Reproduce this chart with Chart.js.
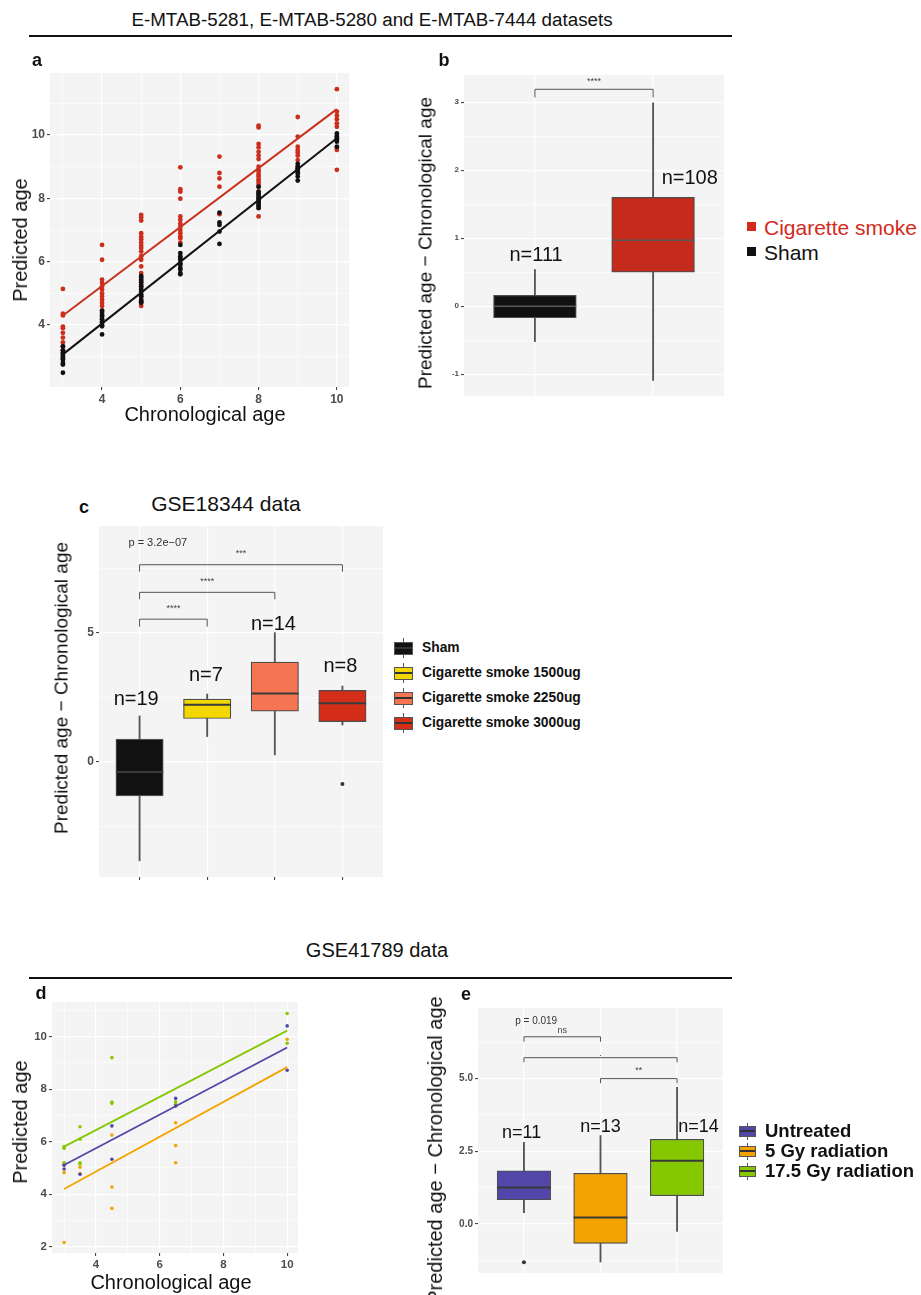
<!DOCTYPE html>
<html>
<head>
<meta charset="utf-8">
<script src="https://cdn.jsdelivr.net/npm/chart.js@4.4.1/dist/chart.umd.min.js"></script>
<style>
body{margin:0;background:#fff;width:921px;height:1295px;position:relative;overflow:hidden;font-family:"Liberation Sans",Arial,sans-serif;color:#111}
.pane{position:absolute}
.t{position:absolute;white-space:nowrap;line-height:1}
.rule{position:absolute;height:2px;background:#111}
.sq{position:absolute;width:9px;height:9px}
.key{position:absolute}
.key i{position:absolute;width:1px;background:#555}
.key b{position:absolute;box-sizing:border-box;border:1.2px solid #555}
.key b:after{content:"";position:absolute;left:0;right:0;top:50%;height:2px;margin-top:-1px;background:#333}
</style>
</head>
<body>
<script>
// ---- panel a: E-MTAB data, predicted vs chronological age
const ageA = [3, 4, 5, 6, 7, 8, 9, 10];
const smokeA = [
  [5.14, 4.36, 4.30, 3.95, 3.90, 3.75, 3.60, 3.45, 3.30, 3.20, 3.10],
  [6.53, 6.06, 5.43, 5.33, 5.22, 5.12, 5.00, 4.90, 4.80, 4.70, 4.60, 4.45],
  [7.48, 7.40, 7.30, 6.90, 6.78, 6.70, 6.60, 6.50, 6.43, 6.32, 6.17, 6.06, 5.85, 5.64, 5.40, 5.22, 4.90, 4.70, 4.60],
  [8.98, 8.29, 8.21, 7.99, 7.43, 7.32, 7.20, 7.10, 7.00, 6.90, 6.80, 6.74, 6.60],
  [9.32, 8.80, 8.63, 8.37, 7.50],
  [10.30, 10.24, 9.72, 9.61, 9.47, 9.35, 9.24, 9.00, 8.90, 8.84, 8.75, 8.69, 8.60, 8.53, 8.45, 8.37, 8.21, 7.43],
  [10.57, 9.95, 9.63, 9.53, 9.45, 9.35, 9.21, 9.00],
  [11.45, 10.74, 10.62, 10.50, 10.37, 10.26, 9.95, 9.60, 9.53, 8.90]
];
const shamA = [
  [3.33, 3.20, 3.12, 3.05, 3.00, 2.95, 2.90, 2.80, 2.75, 2.49],
  [4.45, 4.38, 4.30, 4.28, 4.20, 4.17, 4.10, 4.07, 4.00, 3.96, 3.70],
  [5.55, 5.50, 5.43, 5.35, 5.27, 5.20, 5.12, 5.05, 4.96, 4.90, 4.80, 4.75, 4.70],
  [6.53, 6.27, 6.17, 6.10, 6.06, 5.95, 5.90, 5.80, 5.75, 5.64, 5.60],
  [7.55, 7.24, 7.16, 6.95, 6.56],
  [8.37, 8.21, 8.15, 8.11, 8.05, 8.00, 7.95, 7.90, 7.85, 7.80, 7.75, 7.69],
  [9.09, 9.00, 8.95, 8.90, 8.85, 8.79, 8.69, 8.56],
  [10.05, 9.97, 9.90, 9.85, 9.79, 9.63]
];
const fitXA = [3, 10];
const fitSmokeA = [4.30, 10.82];
const fitShamA = [3.07, 9.90];

// ---- panel b: age difference boxes
const groupsB = ['Sham', 'Cigarette smoke'];
const lowB = [-0.52, -1.09];
const q1B = [-0.17, 0.50];
const medB = [0.00, 0.97];
const q3B = [0.16, 1.60];
const highB = [0.54, 2.99];
const nB = ['n=111', 'n=108'];

// ---- panel c: GSE18344
const groupsC = ['Sham', 'Cigarette smoke 1500ug', 'Cigarette smoke 2250ug', 'Cigarette smoke 3000ug'];
const lowC = [-3.84, 0.97, 0.26, 1.42];
const q1C = [-1.33, 1.67, 1.96, 1.55];
const medC = [-0.40, 2.20, 2.64, 2.26];
const q3C = [0.87, 2.42, 3.86, 2.76];
const highC = [1.77, 2.62, 5.00, 2.93];
const outC = [[], [], [], [-0.87]];
const nC = ['n=19', 'n=7', 'n=14', 'n=8'];

// ---- panel d: GSE41789 predicted vs chronological
const untrX = [3, 3, 3.5, 4.5, 4.5, 6.5, 6.5, 10, 10];
const untrY = [4.96, 5.10, 4.76, 6.60, 5.33, 7.65, 7.36, 10.41, 8.72];
const gy5X = [3, 3, 3.5, 3.5, 4.5, 4.5, 4.5, 6.5, 6.5, 6.5, 10];
const gy5Y = [4.82, 2.16, 5.03, 4.79, 6.25, 4.27, 3.46, 6.72, 5.85, 5.20, 9.90];
const gy17X = [3, 3, 3, 3, 3.5, 3.5, 3.5, 3.5, 4.5, 4.5, 4.5, 6.5, 6.5, 6.5, 10, 10];
const gy17Y = [5.81, 5.75, 5.20, 5.13, 6.57, 6.09, 5.20, 5.15, 9.20, 7.51, 7.46, 7.52, 7.43, 7.36, 10.88, 9.75];
const fitXD = [3, 10];
const fitUntrD = [5.11, 9.59];
const fitGy5D = [4.20, 8.84];
const fitGy17D = [5.81, 10.23];

// ---- panel e: GSE41789 boxes
const groupsE = ['Untreated', '5 Gy radiation', '17.5 Gy radiation'];
const lowE = [0.39, -1.31, -0.26];
const q1E = [0.83, -0.67, 0.97];
const medE = [1.25, 0.22, 2.17];
const q3E = [1.83, 1.74, 2.91];
const highE = [2.81, 3.04, 4.70];
const outE = [[-1.32], [], []];
const nE = ['n=11', 'n=13', 'n=14'];

const fam = '"Liberation Sans", Arial, sans-serif';
const RED = '#cc2e1d', PURPLE = '#5246a8', ORANGE = '#f4a400', GREEN = '#86c806';

function txt(s, x, y, css, anchor) {
  const d = document.createElement('div');
  d.className = 't';
  d.textContent = s;
  d.style.cssText += css;
  d.style.left = x + 'px';
  d.style.top = y + 'px';
  d.style.transform = anchor || 'translate(-50%,-50%)';
  document.body.appendChild(d);
}
function ytitle(s, x, y, size) {
  txt(s, x, y, 'font-size:' + size + 'px', 'translate(-50%,-50%) rotate(-90deg)');
}

function place(box) {
  const w = document.createElement('div');
  w.className = 'pane';
  w.style.left = box.x + 'px'; w.style.top = box.y + 'px';
  const cv = document.createElement('canvas');
  cv.width = box.w; cv.height = box.h;
  w.appendChild(cv);
  document.body.appendChild(w);
  return cv;
}

function axis(o) {
  const isMajor = v => o.major.some(m => Math.abs(m - v) < 1e-9);
  return {
    type: 'linear', min: o.min, max: o.max, offset: false,
    afterBuildTicks: s => { s.ticks = o.all.map(v => ({value: v})); },
    afterFit: s => {
      if (s.isHorizontal()) s.height = o.size; else s.width = o.size;
      s.paddingLeft = s.paddingRight = s.paddingTop = s.paddingBottom = 0;
    },
    border: {display: false},
    grid: {
      offset: false, color: '#ffffff', drawTicks: true, tickLength: 3, tickWidth: 1,
      lineWidth: c => (c.tick && isMajor(c.tick.value)) ? 1.2 : 0.6,
      tickColor: c => (o.marks && c.tick && isMajor(c.tick.value)) ? '#333' : 'rgba(0,0,0,0)'
    },
    ticks: {
      autoSkip: false, maxRotation: 0, minRotation: 0, padding: 2, color: '#4d4d4d',
      font: {family: fam, size: o.fs || 11, weight: 'bold'},
      callback: v => (o.label && isMajor(v)) ? o.label(v) : ''
    }
  };
}

const bg = {id: 'bg', beforeDraw(c) {
  const a = c.chartArea, g = c.ctx;
  g.save(); g.fillStyle = '#f4f4f4'; g.fillRect(a.left, a.top, a.right - a.left, a.bottom - a.top); g.restore();
}};

function opts(box, plot, xs, ys) {
  xs.size = box.y + box.h - plot.y1;
  ys.size = plot.x0 - box.x;
  return {
    responsive: false, animation: false, events: [],
    layout: {autoPadding: false, padding: {top: plot.y0 - box.y, right: box.x + box.w - plot.x1, bottom: 0, left: 0}},
    plugins: {legend: {display: false}, tooltip: {enabled: false}},
    scales: {x: axis(xs), y: axis(ys)}
  };
}

// ---------- panel a ----------
{
  const box = {x: 0, y: 62, w: 360, h: 350}, plot = {x0: 50, x1: 349, y0: 73, y1: 387};
  const pts = g => ageA.flatMap((a, i) => g[i].map(v => ({x: a, y: v})));
  new Chart(place(box), {
    type: 'scatter',
    data: {datasets: [
      {type: 'line', data: fitXA.map((x, i) => ({x, y: fitSmokeA[i]})), borderColor: '#c8321f', borderWidth: 2, pointRadius: 0},
      {type: 'line', data: fitXA.map((x, i) => ({x, y: fitShamA[i]})), borderColor: '#111', borderWidth: 2, pointRadius: 0},
      {data: pts(shamA), backgroundColor: '#111', pointRadius: 2.4, borderWidth: 0},
      {data: pts(smokeA), backgroundColor: RED, pointRadius: 2.4, borderWidth: 0}
    ]},
    options: opts(box, plot,
      {min: 2.67, max: 10.31, all: [3, 4, 5, 6, 7, 8, 9, 10], major: [4, 6, 8, 10], label: v => v, marks: true, fs: 12},
      {min: 2.04, max: 11.96, all: [3, 4, 5, 6, 7, 8, 9, 10, 11], major: [4, 6, 8, 10], label: v => v, marks: true, fs: 12}),
    plugins: [bg]
  });
}

// ---------- box plot helper ----------
function boxChart(box, plot, c) {
  const idx = c.low.map((_, i) => i + 1);
  const unit = (plot.x1 - plot.x0) / (c.xmax - c.xmin);
  const medPts = [];
  idx.forEach((x, i) => { medPts.push({x: x - 0.35, y: c.med[i]}, {x: x + 0.35, y: c.med[i]}, {x: x + 0.4, y: null}); });
  const outPts = c.out.flatMap((a, i) => a.map(v => ({x: i + 1, y: v})));
  const notes = {id: 'notes', afterDatasetsDraw(ch) {
    const g = ch.ctx, X = ch.scales.x, Y = ch.scales.y;
    g.save();
    g.strokeStyle = '#555'; g.lineWidth = 1; g.fillStyle = '#444';
    g.textAlign = 'center'; g.textBaseline = 'middle';
    c.brackets.forEach(b => {
      const xa = X.getPixelForValue(b[0]), xb = X.getPixelForValue(b[1]);
      const yt = Y.getPixelForValue(b[2]), yl = Y.getPixelForValue(b[3]);
      g.beginPath(); g.moveTo(xa, yl); g.lineTo(xa, yt); g.lineTo(xb, yt); g.lineTo(xb, yl); g.stroke();
      g.font = '9px ' + fam;
      g.fillText(b[4], (xa + xb) / 2, Y.getPixelForValue(b[5]));
    });
    if (c.p) {
      g.fillStyle = '#333'; g.font = c.p.fs + 'px ' + fam;
      g.fillText(c.p.s, X.getPixelForValue(c.p.x), Y.getPixelForValue(c.p.y));
    }
    g.fillStyle = '#111'; g.font = c.nfs + 'px ' + fam;
    c.nlab.forEach((s, i) => g.fillText(s, X.getPixelForValue(c.npos[i][0]), Y.getPixelForValue(c.npos[i][1])));
    g.restore();
  }};
  return new Chart(place(box), {
    type: 'bar',
    data: {datasets: [
      {type: 'line', data: medPts, borderColor: c.medCol, borderWidth: c.medW, pointRadius: 0, spanGaps: false, order: 0},
      {type: 'scatter', data: outPts, backgroundColor: '#333', pointRadius: 2, borderWidth: 0, order: 0},
      {data: idx.map((x, i) => ({x, y: [c.q1[i], c.q3[i]]})), backgroundColor: c.colors, borderColor: '#4d4d4d',
        borderWidth: 1.2, borderSkipped: false, barThickness: unit * 0.7, grouped: false, order: 1},
      {data: idx.map((x, i) => ({x, y: [c.low[i], c.high[i]]})), backgroundColor: '#555',
        borderWidth: 0, barThickness: 1.2, grouped: false, order: 2}
    ]},
    options: opts(box, plot,
      {min: c.xmin, max: c.xmax, all: idx, major: idx, label: null, marks: c.xmarks},
      {min: c.ymin, max: c.ymax, all: c.yall, major: c.ymajor, label: c.yfmt, marks: true, fs: c.yfs}),
    plugins: [bg, notes]
  });
}

// ---------- panel b ----------
boxChart({x: 410, y: 70, w: 330, h: 340}, {x0: 464, x1: 724, y0: 75, y1: 396}, {
  low: lowB, q1: q1B, med: medB, q3: q3B, high: highB, out: [[], []],
  colors: ['#111111', '#c42b1c'], medCol: '#5a5a5a', medW: 1.5,
  xmin: 0.4, xmax: 2.6, xmarks: false,
  ymin: -1.32, ymax: 3.40, yall: [-1, -0.5, 0, 0.5, 1, 1.5, 2, 2.5, 3], ymajor: [-1, 0, 1, 2, 3], yfmt: v => v, yfs: 8,
  brackets: [[1, 2, 3.19, 3.07, '****', 3.30]],
  nlab: nB, npos: [[1.01, 0.74], [2.31, 1.88]], nfs: 20
});

// ---------- panel c ----------
boxChart({x: 70, y: 520, w: 320, h: 370}, {x0: 99, x1: 383, y0: 526, y1: 877}, {
  low: lowC, q1: q1C, med: medC, q3: q3C, high: highC, out: outC,
  colors: ['#111111', '#f2d800', '#f57452', '#d42d18'], medCol: '#3a3a3a', medW: 2,
  xmin: 0.4, xmax: 4.6, xmarks: true,
  ymin: -4.47, ymax: 9.13, yall: [-2.5, 0, 2.5, 5, 7.5], ymajor: [0, 5], yfmt: v => v, yfs: 12,
  brackets: [[1, 2, 5.52, 5.23, '****', 5.92], [1, 3, 6.56, 6.29, '****', 6.98], [1, 4, 7.63, 7.36, '***', 8.05]],
  p: {s: 'p = 3.2e\u221207', x: 1.27, y: 8.49, fs: 11},
  nlab: nC, npos: [[0.95, 2.39], [1.98, 3.33], [2.98, 5.30], [3.97, 3.68]], nfs: 20
});

// ---------- panel d ----------
{
  const box = {x: 0, y: 995, w: 310, h: 280}, plot = {x0: 52, x1: 298, y0: 1002, y1: 1253};
  const pts = (xs, ys) => xs.map((x, i) => ({x, y: ys[i]}));
  const fit = (ys, col) => ({type: 'line', data: pts(fitXD, ys), borderColor: col, borderWidth: 1.8, pointRadius: 0});
  new Chart(place(box), {
    type: 'scatter',
    data: {datasets: [
      fit(fitGy17D, GREEN), fit(fitUntrD, PURPLE), fit(fitGy5D, ORANGE),
      {data: pts(untrX, untrY), backgroundColor: PURPLE, pointRadius: 1.8, borderWidth: 0},
      {data: pts(gy5X, gy5Y), backgroundColor: ORANGE, pointRadius: 1.8, borderWidth: 0},
      {data: pts(gy17X, gy17Y), backgroundColor: GREEN, pointRadius: 1.8, borderWidth: 0}
    ]},
    options: opts(box, plot,
      {min: 2.62, max: 10.34, all: [3, 4, 5, 6, 7, 8, 9, 10], major: [4, 6, 8, 10], label: v => v, marks: true, fs: 11.5},
      {min: 1.76, max: 11.32, all: [2, 3, 4, 5, 6, 7, 8, 9, 10, 11], major: [2, 4, 6, 8, 10], label: v => v, marks: true, fs: 11.5}),
    plugins: [bg]
  });
}

// ---------- panel e ----------
boxChart({x: 440, y: 1000, w: 300, h: 290}, {x0: 478, x1: 723, y0: 1008, y1: 1273}, {
  low: lowE, q1: q1E, med: medE, q3: q3E, high: highE, out: outE,
  colors: [PURPLE, '#f2a300', '#85c800'], medCol: '#3a3a3a', medW: 2,
  xmin: 0.4, xmax: 3.6, xmarks: false,
  ymin: -1.69, ymax: 7.43, yall: [-1.25, 0, 1.25, 2.5, 3.75, 5, 6.25], ymajor: [0, 2.5, 5], yfmt: v => v.toFixed(1), yfs: 10,
  brackets: [[1, 2, 6.44, 6.27, 'ns', 6.64], [1, 3, 5.72, 5.56, '.', 5.85], [2, 3, 5.0, 4.84, '**', 5.28]],
  p: {s: 'p = 0.019', x: 1.16, y: 6.99, fs: 10},
  nlab: nE, npos: [[0.97, 3.14], [2.0, 3.35], [3.28, 3.35]], nfs: 18
});

// ---------- text, rules, legends ----------
txt('E-MTAB-5281, E-MTAB-5280 and E-MTAB-7444 datasets', 372, 20, 'font-size:18.8px');
const r1 = document.createElement('div'); r1.className = 'rule'; r1.style.cssText += 'left:29px;width:703px;top:35px'; document.body.appendChild(r1);
txt('GSE41789 data', 377, 950, 'font-size:20px');
const r2 = document.createElement('div'); r2.className = 'rule'; r2.style.cssText += 'left:29px;width:703px;top:977px'; document.body.appendChild(r2);
txt('GSE18344 data', 226, 503, 'font-size:21px');

txt('a', 37, 60, 'font-size:18px;font-weight:bold');
txt('b', 444, 60, 'font-size:18px;font-weight:bold');
txt('c', 84, 507, 'font-size:18px;font-weight:bold');
txt('d', 41, 993, 'font-size:18px;font-weight:bold');
txt('e', 466, 994, 'font-size:18px;font-weight:bold');

ytitle('Predicted age', 20, 240, 20);
txt('Chronological age', 205, 414, 'font-size:20px');
ytitle('Predicted age \u2212 Chronological age', 425, 243, 19);
ytitle('Predicted age \u2212 Chronological age', 61, 688, 19);
ytitle('Predicted age', 20, 1122, 20);
txt('Chronological age', 171, 1282, 'font-size:20px');
ytitle('Predicted age \u2212 Chronological age', 435, 1150, 20);

// legend b
[[groupsB[1], '#d42a1c', 227], [groupsB[0], '#111', 252]].forEach(([s, col, y]) => {
  const q = document.createElement('div'); q.className = 'sq';
  q.style.cssText += 'left:747px;top:' + (y - 5) + 'px;background:' + col;
  document.body.appendChild(q);
  txt(s, 764, y, 'font-size:21px;color:' + col, 'translate(0,-50%)');
});

// boxplot-style legend keys
function keys(names, cols, x, y0, step, w, bh, wh, fs) {
  names.forEach((s, i) => {
    const y = y0 + i * step;
    const k = document.createElement('div'); k.className = 'key';
    k.style.cssText += 'left:' + x + 'px;top:' + (y - wh / 2) + 'px;width:' + w + 'px;height:' + wh + 'px';
    k.innerHTML = '<i style="left:' + Math.floor(w / 2) + 'px;top:0;height:' + wh + 'px"></i>' +
      '<b style="left:0;width:' + w + 'px;top:' + ((wh - bh) / 2) + 'px;height:' + bh + 'px;background:' + cols[i] + '"></b>';
    document.body.appendChild(k);
    txt(s, x + w + 9, y, 'font-size:' + fs + 'px;font-weight:bold', 'translate(0,-50%)');
  });
}
keys(groupsC, ['#111111', '#f2d800', '#f57452', '#d42d18'], 394, 648, 25, 19, 13, 20, 13.8);
keys(groupsE, [PURPLE, '#f2a300', '#85c800'], 739, 1131, 20, 17, 11, 17, 18.5);
</script>
</body>
</html>
